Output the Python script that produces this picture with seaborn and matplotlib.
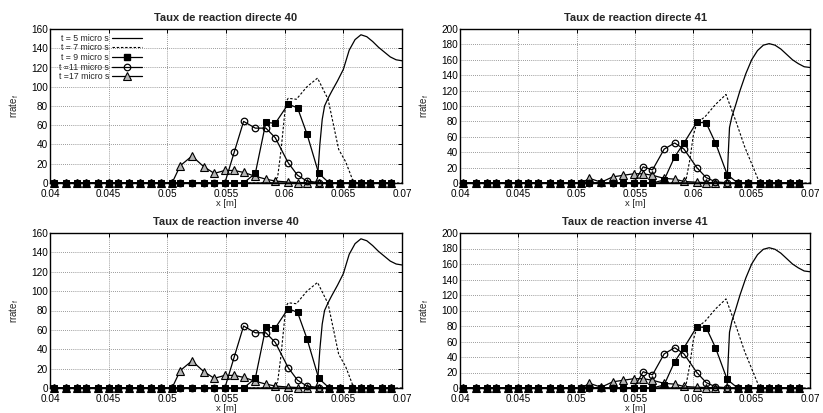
import matplotlib
matplotlib.use("Agg")
import matplotlib.pyplot as plt
import seaborn as sns
from matplotlib.lines import Line2D

# ---------------- data ----------------
x_grid = [0.0403, 0.0414, 0.0423, 0.0431, 0.0441, 0.0450, 0.0458, 0.0467, 0.0477,
          0.0486, 0.0495, 0.0504, 0.0511, 0.0521, 0.0531, 0.0540, 0.0549, 0.0557,
          0.0565, 0.0575, 0.0584, 0.0592, 0.0603, 0.0611, 0.0619, 0.0629, 0.0638,
          0.0647, 0.0657, 0.0665, 0.0673, 0.0683, 0.0691]

# reaction 40
x5_40 = [0.0400, 0.0626, 0.0628, 0.0630, 0.0632, 0.0634, 0.0637, 0.0640, 0.0645, 0.0650,
         0.0655, 0.0660, 0.0665, 0.0670, 0.0675, 0.0680, 0.0685, 0.0690, 0.0695, 0.0700]
y5_40 = [0, 0, 5, 40, 66, 80, 88, 95, 106, 118, 138, 149, 154, 152, 147, 141, 136, 131, 128, 127]
x7_40 = [0.0400, 0.0590, 0.0594, 0.0597, 0.0601, 0.0603, 0.0610, 0.0619, 0.0628, 0.0637,
         0.0646, 0.0652, 0.0658, 0.0662, 0.0700]
y7_40 = [0, 0, 6, 35, 84, 88, 87, 100, 109, 87, 35, 22, 3, 0, 0]
y9_40 = [0] * 19 + [10, 63, 62, 82, 78, 51, 10] + [0] * 7
y11_40 = [0] * 17 + [32, 64, 57, 57, 47, 21, 8, 2, 0.5] + [0] * 7
y17_40 = [0] * 12 + [18, 28, 17, 10, 13, 13, 11, 7, 4, 2, 1, 0.5, 0.3] + [0] * 8

# reaction 41
x5_41 = [0.0400, 0.0628, 0.0629, 0.0630, 0.0631, 0.0633, 0.0636, 0.0640, 0.0645, 0.0650,
         0.0655, 0.0660, 0.0665, 0.0670, 0.0675, 0.0680, 0.0685, 0.0690, 0.0695, 0.0700]
y5_41 = [0, 0, 5, 40, 72, 86, 100, 120, 142, 160, 172, 179, 181, 179, 174, 167, 160, 155, 151, 150]
x7_41 = [0.0400, 0.0591, 0.0594, 0.0597, 0.0600, 0.0603, 0.0610, 0.0619, 0.0628, 0.0637,
         0.0644, 0.0650, 0.0656, 0.0660, 0.0700]
y7_41 = [0, 0, 6, 30, 62, 78, 86, 102, 115, 78, 47, 25, 3, 0, 0]
y9_41 = [0] * 19 + [4, 34, 52, 79, 78, 52, 11] + [0] * 7
y11_41 = [0] * 17 + [21, 17, 44, 52, 44, 20, 7, 1.5, 0.3] + [0] * 7
y17_41 = [0] * 12 + [6, 1, 8, 10, 12, 12, 10, 6, 5, 2, 1, 0.5, 0.3] + [0] * 8

titles = ["Taux de reaction directe 40", "Taux de reaction directe 41",
          "Taux de reaction inverse 40", "Taux de reaction inverse 41"]
legend_labels = ["t = 5 micro s", "t = 7 micro s", "t = 9 micro s",
                 "t =11 micro s", "t =17 micro s"]
xticks = [0.04, 0.045, 0.05, 0.055, 0.06, 0.065, 0.07]
xtick_labels = ["0.04", "0.045", "0.05", "0.055", "0.06", "0.065", "0.07"]
yticks_40 = list(range(0, 161, 20))
yticks_41 = list(range(0, 201, 20))

sets = {
    40: (x5_40, y5_40, x7_40, y7_40, y9_40, y11_40, y17_40, yticks_40),
    41: (x5_41, y5_41, x7_41, y7_41, y9_41, y11_41, y17_41, yticks_41),
}

# ---------------- style ----------------
sns.set_theme(style="white")
plt.rcParams['font.family'] = ['Liberation Sans', 'DejaVu Sans']
plt.rcParams['axes.edgecolor'] = 'black'
plt.rcParams['axes.linewidth'] = 1.0

W, H = 823, 413
fig = plt.figure(figsize=(W / 100, H / 100), dpi=100)
fig.patch.set_facecolor('white')

def px_axes(left, top, right, bottom):
    return fig.add_axes([left / W, 1 - bottom / H, (right - left) / W, (bottom - top) / H])

layout = [
    (px_axes(50, 29, 402, 183), 40, titles[0]),
    (px_axes(460, 29, 810, 183), 41, titles[1]),
    (px_axes(50, 233, 402, 388), 40, titles[2]),
    (px_axes(460, 233, 810, 388), 41, titles[3]),
]

lw = 0.9
dash = (0, (2.2, 1.6))
tri_face = '#b5b5b5'
ms_sq, ms_ci, ms_tr = 4.3, 4.7, 5.3

for i, (ax, key, title) in enumerate(layout):
    x5, y5, x7, y7, y9, y11, y17, yt = sets[key]
    sns.lineplot(x=x_grid, y=y17, ax=ax, color='black', lw=lw,
                 marker='^', markersize=ms_tr, markerfacecolor=tri_face,
                 markeredgecolor='black', markeredgewidth=0.8,
                 estimator=None, sort=False, zorder=3, clip_on=False)
    sns.lineplot(x=x_grid, y=y11, ax=ax, color='black', lw=lw,
                 marker='o', markersize=ms_ci, markerfacecolor='none',
                 markeredgecolor='black', markeredgewidth=0.9,
                 estimator=None, sort=False, zorder=4, clip_on=False)
    sns.lineplot(x=x_grid, y=y9, ax=ax, color='black', lw=lw,
                 marker='s', markersize=ms_sq, markerfacecolor='black',
                 markeredgecolor='black', estimator=None, sort=False, zorder=5,
                 clip_on=False)
    sns.lineplot(x=x7, y=y7, ax=ax, color='black', lw=0.8, linestyle=dash,
                 estimator=None, sort=False, zorder=3)
    sns.lineplot(x=x5, y=y5, ax=ax, color='black', lw=lw,
                 estimator=None, sort=False, zorder=3)

    ax.set_xlim(0.04, 0.07)
    ax.set_ylim(yt[0], yt[-1])
    ax.set_xticks(xticks)
    ax.set_xticklabels(xtick_labels)
    ax.set_yticks(yt)
    ax.set_yticklabels([str(v) for v in yt])
    ax.tick_params(direction='in', top=True, right=True, length=3, width=0.7,
                   labelsize=7.2, colors='black')
    ax.tick_params(axis='x', pad=4.5)
    ax.tick_params(axis='y', pad=1.5)
    ax.grid(True, linestyle=(0, (1, 1.5)), color='#7a7a7a', linewidth=0.6)
    ax.set_axisbelow(True)
    for sp in ax.spines.values():
        sp.set_visible(True)
        sp.set_color('black')
        sp.set_linewidth(1.0)
        sp.set_zorder(6)
    ax.set_title(title, fontsize=8, fontweight='bold', pad=5.5)
    ax.set_xlabel("x [m]", fontsize=6.8, labelpad=0)
    ax.set_ylabel("rrate$_\\mathregular{f}$", fontsize=7, labelpad=7)

    if i == 0:
        handles = [
            Line2D([], [], color='black', lw=lw),
            Line2D([], [], color='black', lw=0.8, linestyle=dash),
            Line2D([], [], color='black', lw=lw, marker='s', markersize=ms_sq,
                   markerfacecolor='black'),
            Line2D([], [], color='black', lw=lw, marker='o', markersize=ms_ci,
                   markerfacecolor='none', markeredgewidth=0.9),
            Line2D([], [], color='black', lw=lw, marker='^', markersize=ms_tr,
                   markerfacecolor=tri_face, markeredgewidth=0.8),
        ]
        ax.legend(handles, legend_labels, loc='upper left', bbox_to_anchor=(0.025, 0.97),
                  frameon=False, fontsize=6.3, markerfirst=False, handlelength=3.5,
                  handletextpad=0.3, labelspacing=0.08, borderpad=0,
                  borderaxespad=0, numpoints=1)

fig.savefig("out.png", dpi=100, facecolor='white')
